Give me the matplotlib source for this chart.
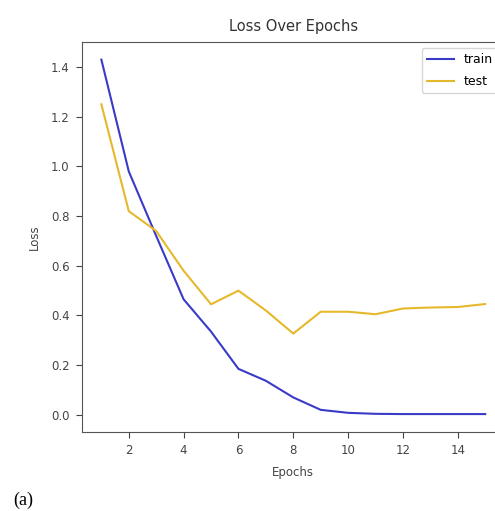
import numpy as np
import matplotlib
matplotlib.use('Agg')
from matplotlib import pyplot as plt

epochs = list(range(1, 16))
train_loss = [1.43, 0.98, 0.72, 0.465, 0.335, 0.185, 0.137, 0.07, 0.02, 0.008, 0.004, 0.003, 0.003, 0.003, 0.003]
test_loss = [1.25, 0.82, 0.74, 0.58, 0.445, 0.5, 0.42, 0.327, 0.415, 0.415, 0.405, 0.428, 0.432, 0.434, 0.446]
x_ticks = [2, 4, 6, 8, 10, 12, 14]
y_ticks = [0.0, 0.2, 0.4, 0.6, 0.8, 1.0, 1.2, 1.4]

fig = plt.figure(figsize=(4.95, 5.11), dpi=100)
# axes run past the right edge, like the cropped original
ax = fig.add_axes([0.166, 0.155, 0.853, 0.763])

ax.plot(epochs, train_loss, color='#3a3ac8', lw=1.5, label='train')
ax.plot(epochs, test_loss, color='#e6b82c', lw=1.5, label='test')

ax.set_xticks(x_ticks)
ax.set_yticks(y_ticks)
ax.set_yticklabels([f'{v:.1f}' for v in y_ticks])
ax.tick_params(labelsize=8.5, colors='#444444', length=4, pad=5)
for s in ax.spines.values():
    s.set_color('#555555')
ax.spines['right'].set_visible(False)

ax.set_title('Loss Over Epochs', fontsize=10.5, color='#333333', pad=8)
ax.set_xlabel('Epochs', fontsize=8.5, color='#444444', labelpad=6)
ax.set_ylabel('Loss', fontsize=8.5, color='#444444', labelpad=7)

ax.legend(loc='upper right', fontsize=9, handlelength=2.2, labelspacing=0.7,
          borderaxespad=0.5)

fig.text(0.026, 0.004, '(a)', fontsize=13, family='Liberation Serif', va='bottom')

fig.savefig('out.png', dpi=100)
